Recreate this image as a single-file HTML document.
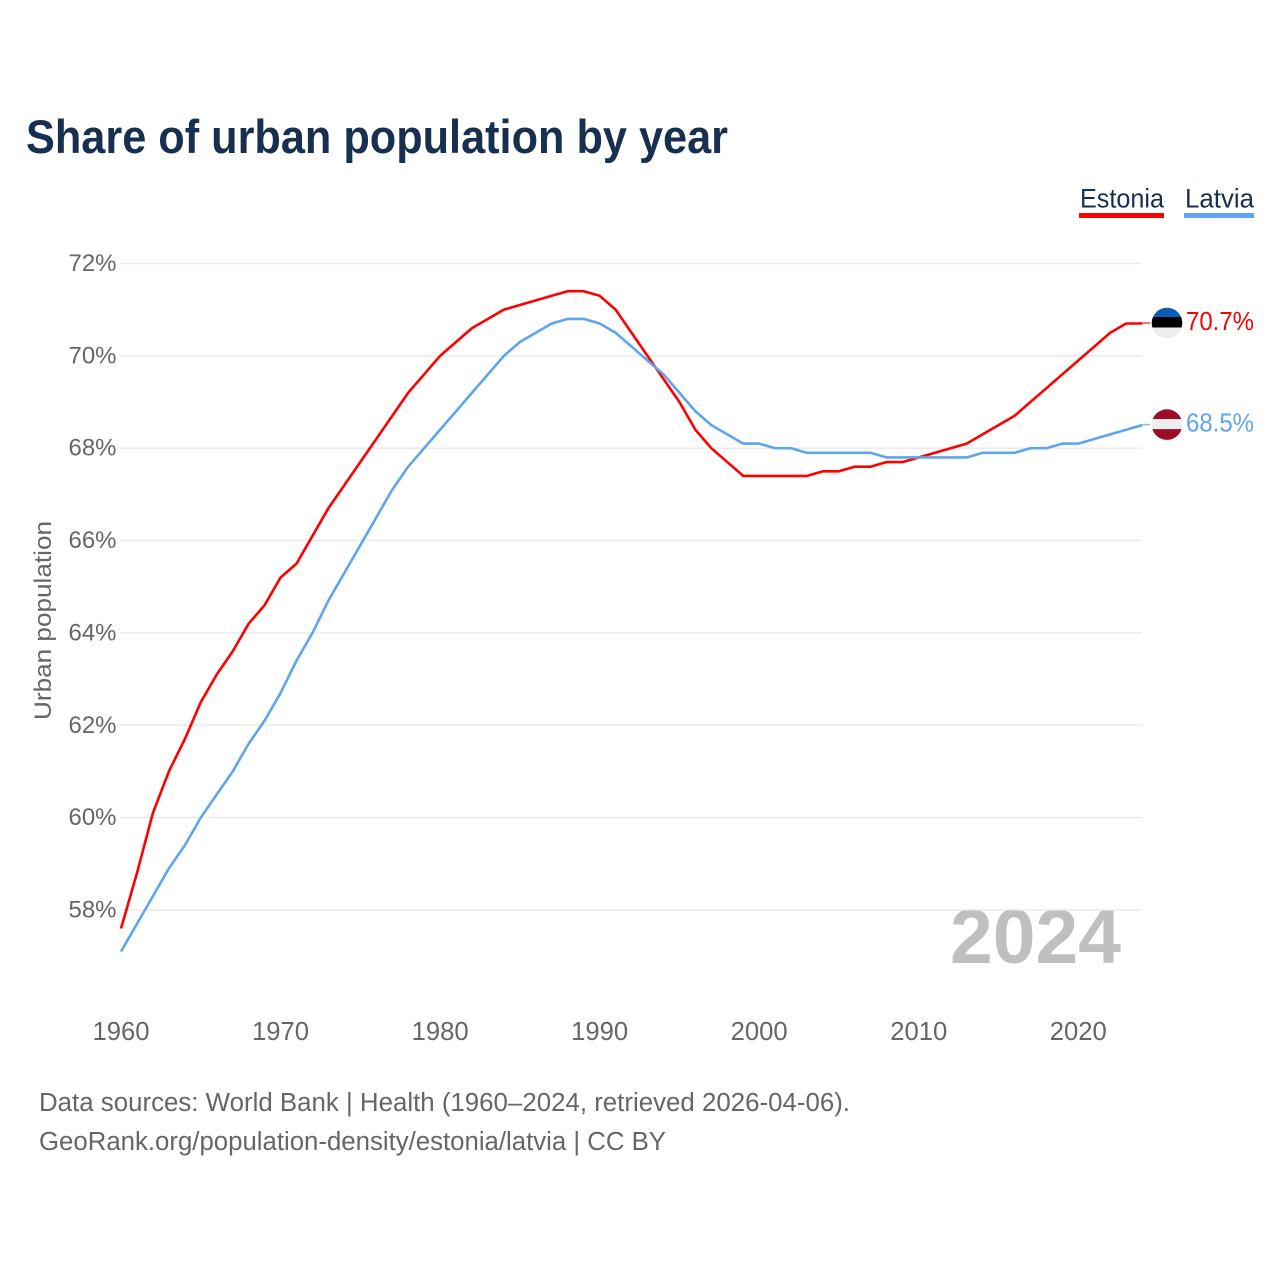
<!DOCTYPE html>
<html lang="en">
<head>
<meta charset="utf-8">
<title>Share of urban population by year</title>
<style>
html,body{margin:0;padding:0;background:#fff;width:1280px;height:1280px;overflow:hidden}
svg{display:block}
text{font-family:"Liberation Sans",sans-serif}
</style>
</head>
<body>
<svg id="chart" xmlns="http://www.w3.org/2000/svg" width="1280" height="1280" viewBox="0 0 1280 1280">
  <rect width="1280" height="1280" fill="#fff"/>
  <text x="26" y="153" font-size="47.5" font-weight="700" fill="#17304f" textLength="702" lengthAdjust="spacingAndGlyphs">Share of urban population by year</text>

  <g>
    <g>
      <text x="1080" y="207.5" font-size="26.5" fill="#17304f" textLength="84" lengthAdjust="spacingAndGlyphs">Estonia</text>
      <rect x="1079" y="213" width="85" height="5" fill="#ff0000"/>
    </g>
    <g>
      <text x="1185" y="207.5" font-size="26.5" fill="#17304f" textLength="69" lengthAdjust="spacingAndGlyphs">Latvia</text>
      <rect x="1184" y="213" width="70" height="5" fill="#5ea5ee"/>
    </g>
  </g>

  <text x="950" y="963" font-size="77" font-weight="700" fill="#bfbfbf" textLength="171" lengthAdjust="spacingAndGlyphs">2024</text>

  <g id="grid"></g>
  <g id="yticks"></g>
  <g id="xticks"></g>
  <text transform="translate(51 620.5) rotate(-90)" text-anchor="middle" font-size="24.5" fill="#666" textLength="199" lengthAdjust="spacingAndGlyphs">Urban population</text>
  <g id="series"></g>
  <g id="endmarks"></g>

  <text x="39" y="1111" font-size="25.5" fill="#666" textLength="811" lengthAdjust="spacingAndGlyphs">Data sources: World Bank | Health (1960–2024, retrieved 2026-04-06).</text>
  <text x="39" y="1150" font-size="25.5" fill="#666" textLength="627" lengthAdjust="spacingAndGlyphs">GeoRank.org/population-density/estonia/latvia | CC BY</text>
</svg>
<script>
const startYear = 1960;
const xTickYears = [1960, 1970, 1980, 1990, 2000, 2010, 2020];
const yTickValues = [58, 60, 62, 64, 66, 68, 70, 72];
const estoniaValues = [57.6, 58.8, 60.1, 61.0, 61.7, 62.5, 63.1, 63.6, 64.2, 64.6,
  65.2, 65.5, 66.1, 66.7, 67.2, 67.7, 68.2, 68.7, 69.2, 69.6,
  70.0, 70.3, 70.6, 70.8, 71.0, 71.1, 71.2, 71.3, 71.4, 71.4,
  71.3, 71.0, 70.5, 70.0, 69.5, 69.0, 68.4, 68.0, 67.7, 67.4,
  67.4, 67.4, 67.4, 67.4, 67.5, 67.5, 67.6, 67.6, 67.7, 67.7,
  67.8, 67.9, 68.0, 68.1, 68.3, 68.5, 68.7, 69.0, 69.3, 69.6,
  69.9, 70.2, 70.5, 70.7, 70.7];
const latviaValues = [57.1, 57.7, 58.3, 58.9, 59.4, 60.0, 60.5, 61.0, 61.6, 62.1,
  62.7, 63.4, 64.0, 64.7, 65.3, 65.9, 66.5, 67.1, 67.6, 68.0,
  68.4, 68.8, 69.2, 69.6, 70.0, 70.3, 70.5, 70.7, 70.8, 70.8,
  70.7, 70.5, 70.2, 69.9, 69.6, 69.2, 68.8, 68.5, 68.3, 68.1,
  68.1, 68.0, 68.0, 67.9, 67.9, 67.9, 67.9, 67.9, 67.8, 67.8,
  67.8, 67.8, 67.8, 67.8, 67.9, 67.9, 67.9, 68.0, 68.0, 68.1,
  68.1, 68.2, 68.3, 68.4, 68.5];

const NS = 'http://www.w3.org/2000/svg';
function xScale(year) { return 121 + (year - 1960) * 15.955; }
function yScale(value) { return 910 - (value - 58) * 46.18; }
function make(tag, attrs, parent, text) {
  const el = document.createElementNS(NS, tag);
  for (const k in attrs) el.setAttribute(k, attrs[k]);
  if (text !== undefined) el.textContent = text;
  parent.appendChild(el);
  return el;
}

const grid = document.getElementById('grid');
const yticks = document.getElementById('yticks');
const xticks = document.getElementById('xticks');
const series = document.getElementById('series');
const endmarks = document.getElementById('endmarks');

yTickValues.forEach(function (v) {
  const line = make('line', {x1: 120, x2: 1142, y1: yScale(v), y2: yScale(v), stroke: '#ebebeb', 'stroke-width': 1.5}, grid);
  
  
  const label = make('text', {x: 116.5, y: yScale(v) + 7.5, 'text-anchor': 'end', 'font-size': 24.5, fill: '#666', textLength: 48, lengthAdjust: 'spacingAndGlyphs'}, yticks, v + '%');
  
  
});

xTickYears.forEach(function (yr) {
  const label = make('text', {x: xScale(yr), y: 1040, 'text-anchor': 'middle', 'font-size': 25.5, fill: '#666', textLength: 57, lengthAdjust: 'spacingAndGlyphs'}, xticks, String(yr));
  
  
});

function drawSeries(values, color) {
  const pts = values.map(function (v, i) { return xScale(startYear + i).toFixed(2) + ',' + yScale(v).toFixed(2); }).join(' ');
  return make('polyline', {points: pts, fill: 'none', stroke: color, 'stroke-width': 2.6, 'stroke-linejoin': 'round'}, series);
}
const latviaLine = drawSeries(latviaValues, '#5ea5ee');


const estoniaLine = drawSeries(estoniaValues, '#ff0000');


// Latvia runs on top of Estonia until the two curves cross in the 1990s.
series.appendChild(latviaLine);

function drawEnd(values, color, clipId, stripes) {
  const lastIdx = values.length - 1;
  const last = values[lastIdx];
  const px = xScale(startYear + lastIdx);
  const cy = yScale(last);
  const g = make('g', {}, endmarks);
  make('line', {x1: px, x2: 1150, y1: cy - 0.5, y2: cy - 0.5, stroke: color, 'stroke-width': 1.6, opacity: 0.7}, g);
  const clip = make('clipPath', {id: clipId}, g);
  make('circle', {cx: 1167, cy: cy - 0.5, r: 15.3}, clip);
  const flag = make('g', {'clip-path': 'url(#' + clipId + ')'}, g);
  stripes.forEach(function (s) {
    make('rect', {x: 1150, y: cy - 0.5 + s[0], width: 34, height: s[1], fill: s[2]}, flag);
  });
  make('text', {x: 1186, y: cy + 6.5, 'font-size': 25.5, fill: color, textLength: 68, lengthAdjust: 'spacingAndGlyphs'}, g, last.toFixed(1) + '%');
  return g;
}
const estoniaEnd = drawEnd(estoniaValues, '#ff0000', 'clip-estonia', [[-16, 10, '#0a5cb5'], [-6, 10.5, '#000000'], [4.5, 12, '#eeeeee']]);


const latviaEnd = drawEnd(latviaValues, '#5ea5ee', 'clip-latvia', [[-16, 10.5, '#9e0b26'], [-5.5, 10, '#eeeeee'], [4.5, 12, '#9e0b26']]);


</script>
</body>
</html>
